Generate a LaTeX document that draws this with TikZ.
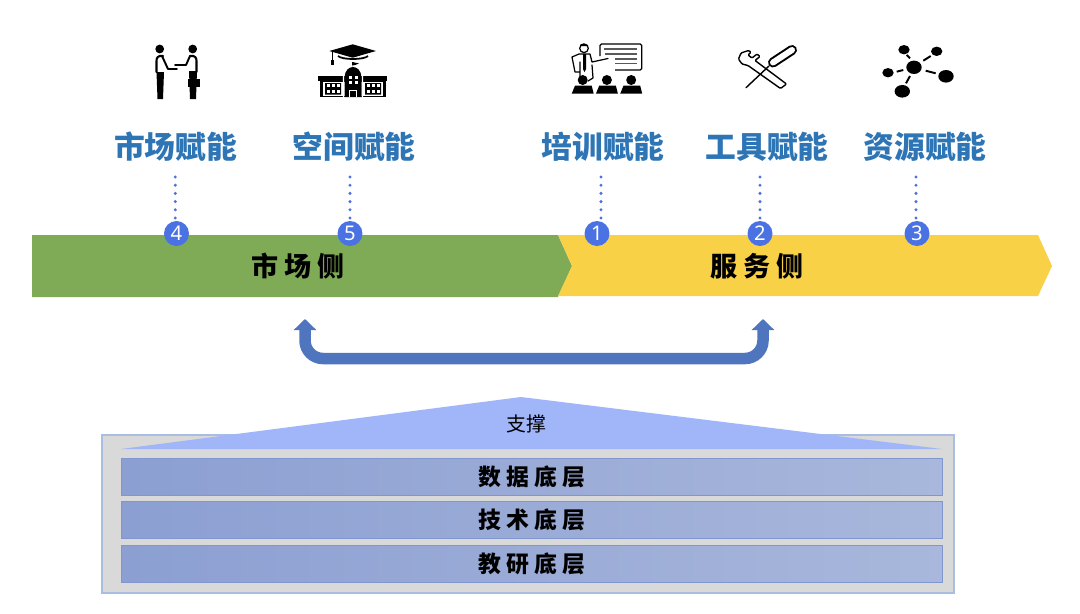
\documentclass[tikz,border=0pt]{standalone}
\usepackage{fontspec}
\setmainfont{Noto Sans}
\newfontfamily\cjk[BoldFont={Noto Sans CJK SC Black}]{Noto Sans CJK SC}
\usetikzlibrary{arrows.meta,positioning,shapes.geometric}
\definecolor{titleblue}{HTML}{2E75B6}
\definecolor{badgeblue}{HTML}{4A72E2}
\definecolor{marketgreen}{HTML}{7FAB57}
\definecolor{serviceyellow}{HTML}{F8D147}
\definecolor{loopblue}{HTML}{4E75BE}
\definecolor{roofblue}{HTML}{A0B6F8}
\definecolor{edgeblue}{HTML}{A9BDE3}
\definecolor{layerleft}{HTML}{8C9FD2}
\definecolor{layerright}{HTML}{A8B7DB}
\definecolor{layeredge}{HTML}{7F96D0}

\begin{document}
\begin{tikzpicture}[
  x=0.02cm, y=-0.02cm,
  title/.style={font=\cjk\fontsize{17.5pt}{20pt}\selectfont\bfseries, text=titleblue, inner sep=0pt, minimum height=0.6cm, outer ysep=0.3cm},
  badge/.style={circle, fill=badgeblue, text=white, minimum size=0.5cm, inner sep=0pt, font=\fontsize{11.5pt}{13pt}\selectfont},
  dots/.style={draw=badgeblue, line width=1.9pt, line cap=round, dash pattern=on 0pt off 0.164cm},
  side/.style={font=\cjk\fontsize{15.4pt}{18pt}\selectfont\bfseries, text=black, inner sep=0pt},
  layer/.style={draw=layeredge, line width=0.5pt, left color=layerleft, right color=layerright, minimum width=16.44cm, minimum height=0.74cm, inner sep=0pt, font=\cjk\fontsize{13pt}{15pt}\selectfont\bfseries},
  uarrow/.style={draw=loopblue, line width=0.23cm, rounded corners=0.36cm, {Triangle[length=0.22cm,width=0.44cm]}-{Triangle[length=0.22cm,width=0.44cm]}},
  tool/.style={line cap=round, line join=round}
]
\useasboundingbox (0,0) rectangle (1080,613);
\fill[white] (0,0) rectangle (1080,613);

\fill[marketgreen] (32,235) -- (558,235) -- (572,266) -- (558,297) -- (32,297) -- cycle;
\fill[serviceyellow] (558,235) -- (1038,235) -- (1052,266) -- (1038,296) -- (558,296) -- (572,266) -- cycle;
\node[side] (market) at (298,266) {市 场 侧};
\node[side] (service) at (757,266) {服 务 侧};

\foreach \n/\tx/\dx/\bx/\txt in {4/175.5/175.3/176.5/市场赋能, 5/354/350/350/空间赋能, 1/603/601/597/培训赋能, 2/767/760/760/工具赋能, 3/925/916/917/资源赋能} {
  \node[title] (t\n) at (\tx,147) {\txt};
  \coordinate (d\n) at (\dx,220);
  \draw[dots] (d\n |- t\n.south) -- (d\n);
  \node[badge] (b\n) at (\bx,233.5) {\n};
}

\coordinate (ul) at (305,319);
\coordinate (ur) at (763,319);
\coordinate (um) at (534,358.5);
\draw[uarrow] (ul) |- (um) -| (ur);

\draw[edgeblue, fill=black!15, line width=0.6pt] (102,435) rectangle (954,593);
\fill[roofblue] (121,449) -- (521,397) -- (942,449) -- cycle;
\node[inner sep=0pt, font=\cjk\fontsize{11.3pt}{13pt}\selectfont] (roof) at (526,424) {支撑};
\node[layer] (l1) at (532,476.5) {数 据 底 层};
\node[layer] (l2) at (532,519.5) {技 术 底 层};
\node[layer] (l3) at (532,563.5) {教 研 底 层};

% handshake
\fill (159.7,49) circle (4.4) (192.7,49) circle (4.4);
\fill (156.5,72) -- (164,72) -- (163,99) -- (157.5,99) -- cycle;
\fill (189,71) -- (197,71) -- (196,99) -- (190,99) -- cycle;
\draw[tool, line width=1.2pt] (163,56) .. controls (158,55) and (156,58) .. (156.5,62) -- (156.5,72);
\draw[tool, line width=1.1pt] (162,56) -- (168,69) -- (177,69);
\draw[tool, line width=1.2pt] (190,56) .. controls (195,55) and (197,58) .. (196.5,62) -- (196.5,72);
\draw[tool, line width=1.1pt] (190,56) -- (186,65) -- (175,65);
\fill (187.5,79) rectangle (199.5,87);

% graduation cap and school
\fill (329.3,51) -- (352.7,44.3) -- (376,51) -- (352.7,57.7) -- cycle;
\draw[line width=1pt] (338,56) .. controls (342,60) and (364,60) .. (368,56);
\draw[line width=0.6pt] (332.3,52) -- (332.3,60);
\fill (331,60) rectangle (334,64.5);
\draw[line width=0.6pt] (352.5,70) -- (352.5,62);
\fill (352.5,62) -- (359,63.5) -- (352.5,66) -- cycle;
\fill (318,75.7) rectangle (387,81);
\fill (320,81) rectangle (386,96.7);
\fill[white] (323,82) rectangle (383,95.5);
\fill (325,83) rectangle (341,94.5) (365,83) rectangle (381,94.5);
\fill (344.5,97) -- (344.5,77) .. controls (345,70) and (349,67) .. (353,67) .. controls (357,67) and (361,70) .. (361.5,77) -- (361.5,97) -- cycle;
\draw[white, line width=0.7pt] (343.5,97) -- (343.5,77) .. controls (344,69) and (349,66) .. (353,66);
\draw[white, line width=0.7pt] (362.5,97) -- (362.5,77) .. controls (362,69) and (357,66) .. (353,66);
\foreach \x in {326.5,331.5,336.5,366.5,371.5,376.5}
  \foreach \y in {84,89.5}
    \fill[white] (\x,\y) rectangle +(3.4,3.4);
\foreach \x in {349,354.5}
  \foreach \y in {76,81}
    \fill[white] (\x,\y) rectangle +(3,3.2);
\fill[white] (349,90) rectangle (357,97);
\fill (350,90.5) rectangle (356,97);

% trainer and audience
\draw[line width=0.7pt, rounded corners=0.03cm] (600,56) -- (600,44) -- (641.7,44) -- (641.7,70) -- (615,70);
\foreach \x/\y in {604/49, 605/54, 615/59, 615/63.5}
  \draw[black!65, line width=0.6pt] (\x,\y) -- (636.5,\y);
\draw[line width=0.7pt] (584,48.3) circle (4.3);
\fill (580,45) .. controls (582,43) and (586,43) .. (588.5,46) -- (580,46) -- cycle;
\draw[tool, line width=0.7pt] (579,54) -- (572,57) -- (575,72) -- (579,72) (579,54) -- (590,54) -- (592,62) -- (608,58.5) (592,65) -- (593,78) -- (588,81) (580,62) -- (580,76);
\fill (583,54) -- (586,54) -- (586,69) -- (584.5,72) -- (583,69) -- cycle;
\foreach \s in {0,24.2,48.5} {
  \fill (582.7+\s,80) circle (5);
  \fill (571.7+\s,93.7) -- (575+\s,85.7) -- (591.7+\s,85.7) -- (593.7+\s,93.7) -- cycle;
}

% tools
\draw[tool, fill=white, line width=0.8pt, rounded corners=0.02cm] (748.5,50.5) -- (741,53) -- (738.5,59) -- (742,64) -- (748,65.5) -- (780.5,88.5) -- (786.5,84) -- (755,60.5) -- (760,56.5) -- (757,54) -- (752,58) -- (748,55) -- (751,52) -- cycle;
\draw[tool, line width=0.2cm] (773,62.5) -- (792,50);
\draw[tool, white, line width=0.12cm] (773,62.5) -- (792,50);
\draw[tool, line width=0.8pt] (769,66) -- (746,87.7);

% network
\fill (914,67.3) ellipse (7.7 and 6.7);
\fill (904,49.7) ellipse (5.7 and 4.7);
\fill (936.7,51.3) ellipse (5.7 and 4.7);
\fill (888,72.7) ellipse (5.7 and 4.7);
\fill (946,76.3) ellipse (7.7 and 6.3);
\fill (902.3,91.3) ellipse (7.7 and 6.3);
\draw[line width=1.1pt] (923.3,60.7) -- (930.7,56) (925.7,70.7) -- (935.7,73.3) (903.3,70) -- (896.7,71.7) (910,76) -- (906,83.3) (906.7,55) -- (910,58.3);
\end{tikzpicture}
\end{document}
